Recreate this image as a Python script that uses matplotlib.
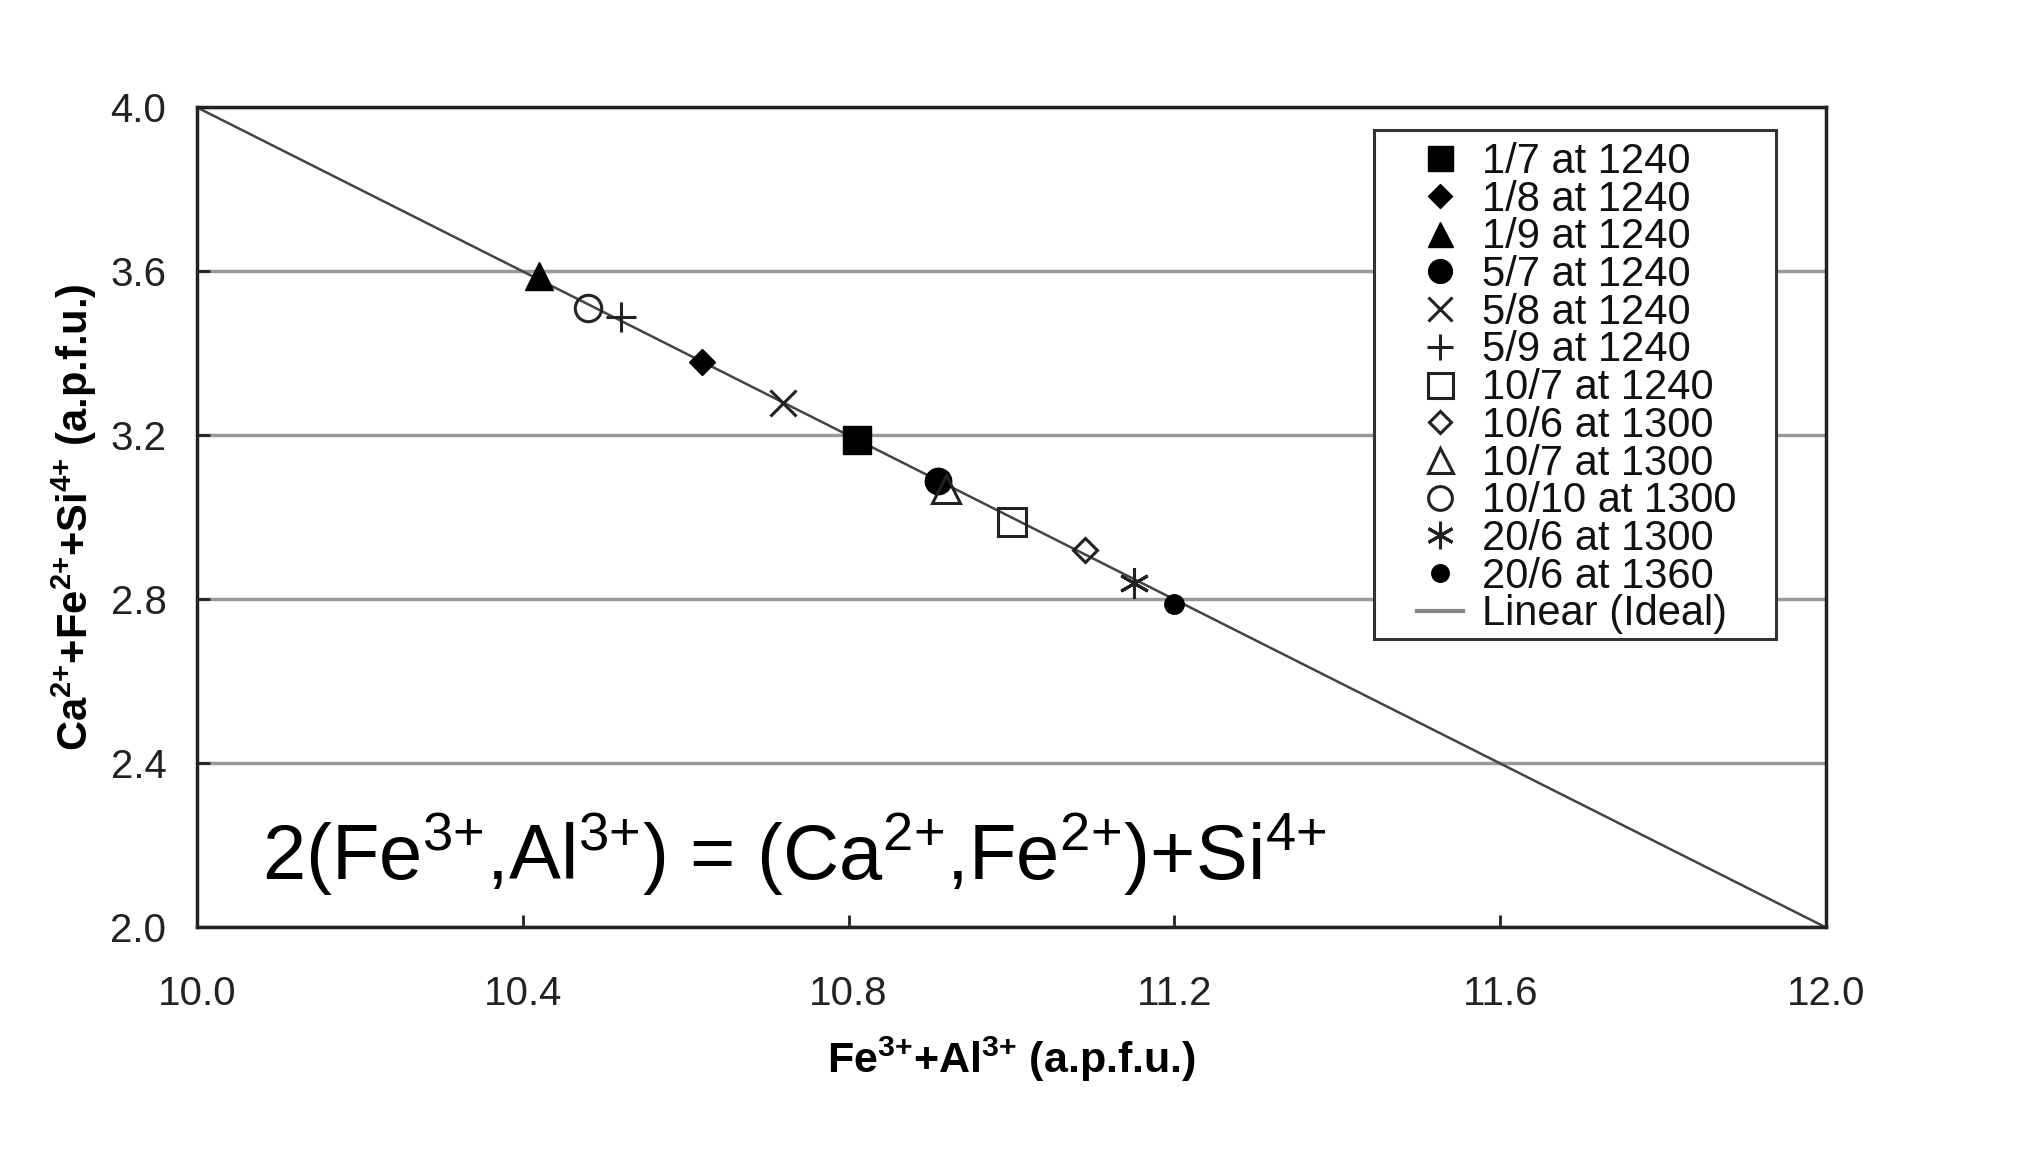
import numpy as np
import matplotlib
matplotlib.use('Agg')
import matplotlib.pyplot as plt
from matplotlib.patches import Rectangle

plt.rcParams['font.family'] = ['Liberation Sans', 'DejaVu Sans']
plt.rcParams['mathtext.fontset'] = 'custom'
plt.rcParams['mathtext.rm'] = 'Liberation Sans'
plt.rcParams['mathtext.it'] = 'Liberation Sans'
plt.rcParams['mathtext.bf'] = 'Liberation Sans:bold'
plt.rcParams['mathtext.default'] = 'regular'

# series labels and values
labels = ['1/7 at 1240', '1/8 at 1240', '1/9 at 1240', '5/7 at 1240', '5/8 at 1240',
          '5/9 at 1240', '10/7 at 1240', '10/6 at 1300', '10/7 at 1300', '10/10 at 1300',
          '20/6 at 1300', '20/6 at 1360']
fe_al = [10.81, 10.62, 10.42, 10.91, 10.72, 10.52, 11.00, 11.09, 10.92, 10.48, 11.15, 11.20]
ca_fe_si = [3.19, 3.38, 3.59, 3.09, 3.28, 3.49, 2.99, 2.92, 3.07, 3.51, 2.84, 2.79]

ideal_x = [10.0, 12.0]
ideal_y = [4.0, 2.0]

xticks = [10.0, 10.4, 10.8, 11.2, 11.6, 12.0]
yticks = [2.0, 2.4, 2.8, 3.2, 3.6, 4.0]

# marker, filled?, size
styles = [('s', True, 20), ('D', True, 13.5), ('^', True, 20), ('o', True, 19),
          ('x', False, 19), ('+', False, 21), ('s', False, 20), ('D', False, 12.5),
          ('^', False, 20), ('o', False, 19), ((6, 2, 0), False, 22), ('o', True, 14)]

fig = plt.figure(figsize=(20.21, 11.55), dpi=100)
ax = fig.add_axes([0.0975, 0.197, 0.806, 0.710])

for i in range(len(labels)):
    m, filled, ms = styles[i]
    if filled:
        ax.plot(fe_al[i], ca_fe_si[i], linestyle='none', marker=m, ms=ms,
                color='black', mec='black', label=labels[i], zorder=3)
    else:
        ax.plot(fe_al[i], ca_fe_si[i], linestyle='none', marker=m, ms=ms,
                mfc='none', mec='#222222', mew=2.2, label=labels[i], zorder=3)

ax.plot(ideal_x, ideal_y, color='#444444', lw=1.8, label='Linear (Ideal)', zorder=2)

ax.set_xlim(10.0, 12.0)
ax.set_ylim(2.0, 4.0)
ax.set_xticks(xticks)
ax.set_yticks(yticks)
ax.set_xticklabels(['%.1f' % v for v in xticks])
ax.set_yticklabels(['%.1f' % v for v in yticks])
ax.tick_params(axis='both', direction='in', length=9, width=2, labelsize=29,
               colors='#222222')
ax.tick_params(axis='x', pad=34)
ax.tick_params(axis='y', pad=22)
ax.yaxis.grid(True, color='#999999', lw=2.5)
ax.set_axisbelow(True)
for s in ax.spines.values():
    s.set_color('#222222')
    s.set_linewidth(2.5)

ax.set_xlabel(r'$\mathbf{Fe^{3{+}}{+}Al^{3{+}}}$ (a.p.f.u.)', fontsize=31, fontweight='bold', labelpad=16)
ax.set_ylabel(r'$\mathbf{Ca^{2{+}}{+}Fe^{2{+}}{+}Si^{4{+}}}$ (a.p.f.u.)', fontsize=30, fontweight='bold', labelpad=8)

ax.text(0.04, 0.058, r'2(Fe$^{3{+}}$,Al$^{3{+}}$) = (Ca$^{2{+}}$,Fe$^{2{+}}$)+Si$^{4{+}}$',
        transform=ax.transAxes, fontsize=56, va='baseline', ha='left')

# legend box (frame drawn separately, the scan has a wide left margin)
ax.add_patch(Rectangle((0.7225, 0.352), 0.247, 0.621, transform=ax.transAxes,
                       facecolor='white', edgecolor='#333333', lw=2.2, zorder=4))
leg = ax.legend(loc='upper left', bbox_to_anchor=(0.749, 0.958), borderaxespad=0,
                fontsize=30, labelspacing=-0.055, handlelength=1.1, handletextpad=0.45,
                frameon=False, borderpad=0, markerscale=0.9)
leg.set_zorder(5)
for t in leg.get_texts():
    t.set_color('#111111')
leg.get_lines()[-1].set_color('#888888')
leg.get_lines()[-1].set_linewidth(3)

plt.savefig('out.png', dpi=100)
